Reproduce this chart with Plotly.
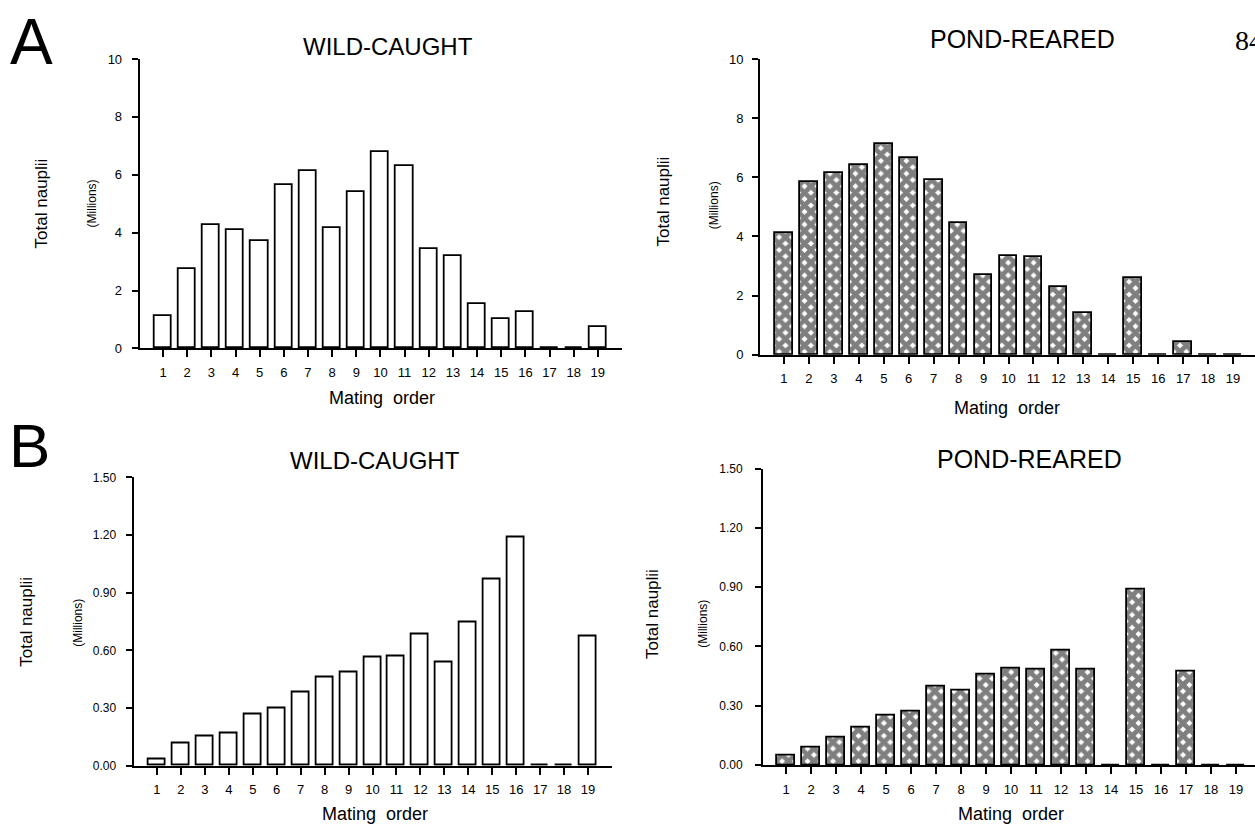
import plotly.graph_objects as go

# ---------------- data ----------------
mating_order = list(range(1, 20))
tick_labels = [str(i) for i in mating_order]

# A: total nauplii (millions)
wild_total = [1.11, 2.75, 4.25, 4.09, 3.71, 5.66, 6.13, 4.16, 5.39, 6.79,
              6.29, 3.43, 3.20, 1.53, 1.02, 1.25, 0.0, 0.0, 0.75]
pond_total = [4.13, 5.84, 6.16, 6.40, 7.14, 6.66, 5.89, 4.44, 2.69, 3.33,
              3.31, 2.29, 1.40, 0.0, 2.58, 0.0, 0.41, 0.0, 0.0]
# B: total nauplii (millions)
wild_b = [0.036, 0.117, 0.155, 0.168, 0.266, 0.298, 0.380, 0.461, 0.487, 0.565,
          0.570, 0.684, 0.536, 0.746, 0.970, 1.188, 0.0, 0.0, 0.674]
pond_b = [0.050, 0.091, 0.137, 0.189, 0.251, 0.271, 0.399, 0.377, 0.456, 0.488,
          0.481, 0.582, 0.481, 0.0, 0.888, 0.0, 0.471, 0.0, 0.0]

y_ticks_a = [0, 2, 4, 6, 8, 10]
y_ticks_b = [0.0, 0.3, 0.6, 0.9, 1.2, 1.5]

W, H = 1255, 834
FONT = "Liberation Sans, Arial, Helvetica, sans-serif"


def fx(px):
    return px / W


def fy(py):
    return 1 - py / H


fig = go.Figure()

plain = dict(color="white", line=dict(color="black", width=1.8))
hatched = dict(color="white", line=dict(color="black", width=1.8),
               pattern=dict(shape="x", fgcolor="black", bgcolor="white",
                            size=9, solidity=0.78))

panels = [
    # values, marker, axis suffix, x px domain, x range, y px (bottom, top), y range,
    # yticks, fmt, y tick font, y standoff
    (wild_total, plain, "", (139.6, 622), (0.03, 20.0), (347.7, 53), (0, 10), y_ticks_a, "d", 13, 7),
    (pond_total, hatched, "2", (760, 1255), (0.04, 19.88), (354, 53), (0, 10), y_ticks_a, "d", 13, 6),
    (wild_b, plain, "3", (133.5, 612), (0.02, 20.0), (772.7, 479), (0, 1.5), y_ticks_b, ".2f", 12, 7),
    (pond_b, hatched, "4", (763, 1255), (0.08, 19.76), (772, 470), (0, 1.5), y_ticks_b, ".2f", 12, 10),
]

for vals, mk, s, xd, xr, yd, yr, yt, fmt, tf, sto in panels:
    fig.add_trace(go.Bar(x=mating_order, y=vals, width=0.71, marker=mk,
                         xaxis="x" + s, yaxis="y" + s, showlegend=False,
                         hoverinfo="x+y"))
    common = dict(showline=True, linecolor="black", linewidth=1.8,
                  ticks="outside", tickwidth=1.5, tickcolor="black",
                  showgrid=False, zeroline=False)
    fig.update_layout(**{
        "xaxis" + s: dict(domain=[fx(xd[0]), fx(xd[1])], range=list(xr),
                          anchor="y" + s, tickmode="array",
                          tickvals=mating_order, ticktext=tick_labels,
                          ticklen=7, ticklabelstandoff=4,
                          tickfont=dict(family=FONT, size=13, color="black"),
                          **common),
        "yaxis" + s: dict(domain=[fy(yd[0]), fy(yd[1])], range=list(yr),
                          anchor="x" + s, tickmode="array", tickvals=yt,
                          tickformat=fmt, ticklen=6, ticklabelstandoff=sto,
                          tickfont=dict(family=FONT, size=tf, color="black"),
                          **common),
    })

ann = []


def text(x, y, t, size, rot=0, family=FONT):
    ann.append(dict(x=fx(x), y=fy(y), xref="paper", yref="paper", text=t,
                    showarrow=False, textangle=rot, xanchor="center",
                    yanchor="middle",
                    font=dict(family=family, size=size, color="black")))


# panel letters
text(31, 36, "A", 64)
text(29, 447, "B", 62)
# titles
text(388, 40, "WILD-CAUGHT", 24)
text(1022, 33, "POND-REARED", 25)
text(375, 462, "WILD-CAUGHT", 24)
text(1029, 460, "POND-REARED", 25)
# x-axis titles
text(382, 398, "Mating  order", 18)
text(1007, 408, "Mating  order", 18)
text(375, 822, "Mating  order", 18)
text(1011, 822, "Mating  order", 18)
# y-axis titles
text(41, 200, "Total nauplii", 17, -90)
text(92, 200, "(Millions)", 12, -90)
text(663, 198, "Total nauplii", 17, -90)
text(714, 202, "(Millions)", 12, -90)
text(27, 626, "Total nauplii", 17, -90)
text(78, 627, "(Millions)", 12, -90)
text(653, 618, "Total nauplii", 17, -90)
text(703, 628, "(Millions)", 12, -90)
# page number (cropped at right edge, as in the source page)
ann.append(dict(x=fx(1233), y=fy(34), xref="paper", yref="paper", text="84",
                showarrow=False, xanchor="left", yanchor="middle",
                font=dict(family="Liberation Serif, Times New Roman, serif",
                          size=28, color="black")))

fig.update_layout(width=W, height=H, margin=dict(l=0, r=0, t=0, b=0),
                  paper_bgcolor="white", plot_bgcolor="white",
                  annotations=ann, bargap=0)

fig.write_html("out.html", config={"displayModeBar": False},
               post_script="document.body.style.margin='0';"
                           "document.body.style.overflow='hidden';")
